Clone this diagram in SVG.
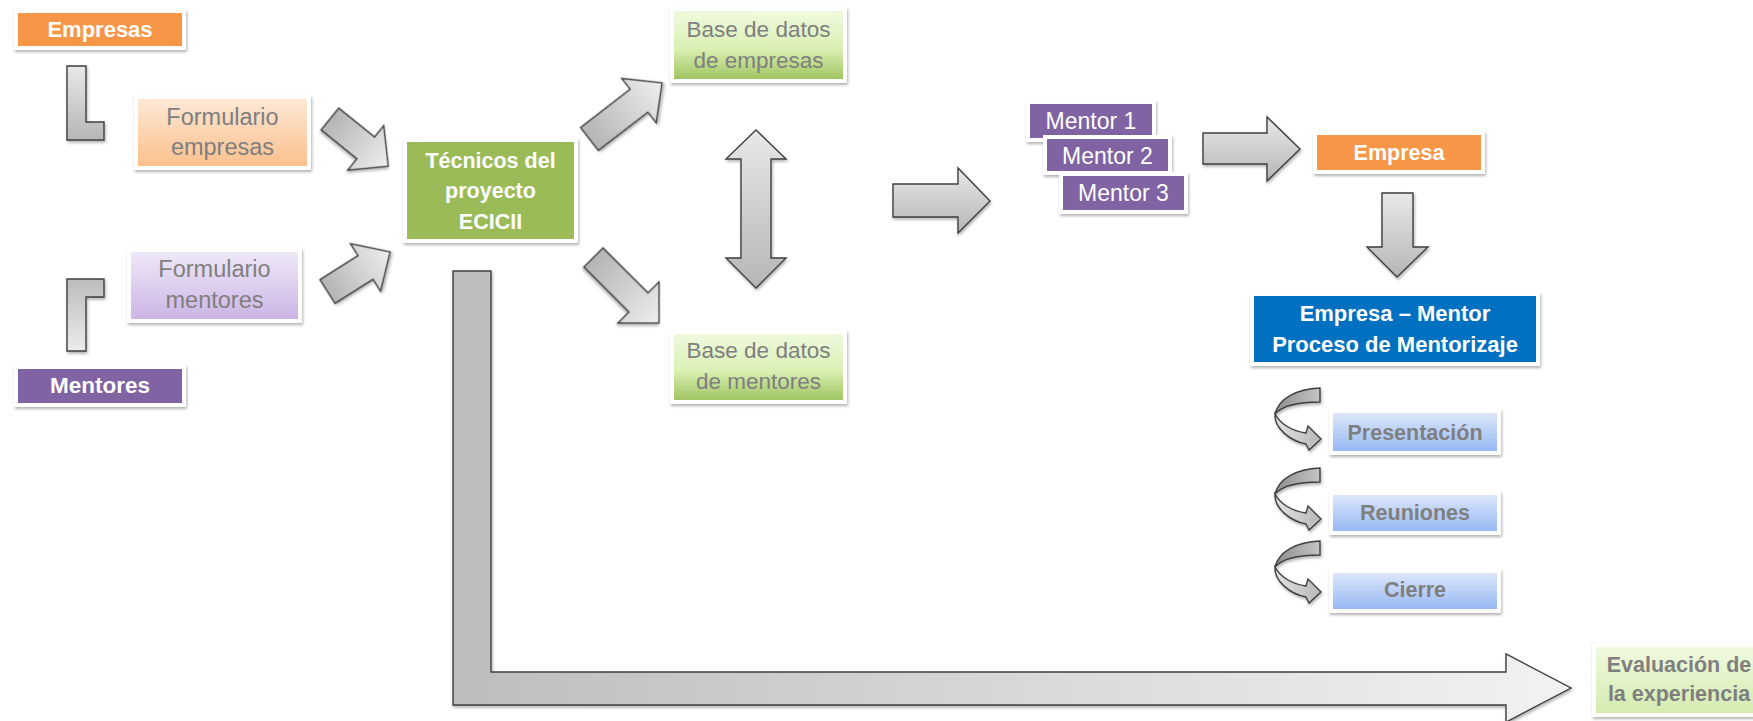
<svg xmlns="http://www.w3.org/2000/svg" width="1753" height="721" viewBox="0 0 1753 721">
<defs>
<filter id="sh" x="-10%" y="-15%" width="125%" height="140%"><feDropShadow dx="1" dy="2" stdDeviation="1.5" flood-color="#000" flood-opacity="0.3"/></filter>
<linearGradient id="gAxis" x1="0" y1="0" x2="1" y2="0"><stop offset="0" stop-color="#b4b4b4"/><stop offset="1" stop-color="#eeeeee"/></linearGradient>
<linearGradient id="gDown" x1="0" y1="0" x2="0" y2="1"><stop offset="0" stop-color="#e8e8e8"/><stop offset="1" stop-color="#b6b6b6"/></linearGradient>
<linearGradient id="gUp" x1="0" y1="0" x2="0" y2="1"><stop offset="0" stop-color="#bcbcbc"/><stop offset="1" stop-color="#ececec"/></linearGradient>
<linearGradient id="gBig" gradientUnits="userSpaceOnUse" x1="453" y1="0" x2="1571" y2="0"><stop offset="0" stop-color="#bdbdbd"/><stop offset="1" stop-color="#f2f2f2"/></linearGradient>
<linearGradient id="gPeach" x1="0" y1="0" x2="0" y2="1"><stop offset="0" stop-color="#fde9d8"/><stop offset="1" stop-color="#fbbf8a"/></linearGradient>
<linearGradient id="gLav" x1="0" y1="0" x2="0" y2="1"><stop offset="0" stop-color="#f0eaf8"/><stop offset="1" stop-color="#cbb3e5"/></linearGradient>
<linearGradient id="gLime" x1="0" y1="0" x2="0" y2="1"><stop offset="0" stop-color="#f1fae0"/><stop offset="0.55" stop-color="#daf0b4"/><stop offset="1" stop-color="#9dc25c"/></linearGradient>
<linearGradient id="gLime2" x1="0" y1="0" x2="0" y2="1"><stop offset="0" stop-color="#f1fae2"/><stop offset="1" stop-color="#d3ebad"/></linearGradient>
<linearGradient id="gSky" x1="0" y1="0" x2="0" y2="1"><stop offset="0" stop-color="#e0e9fb"/><stop offset="1" stop-color="#93b6f2"/></linearGradient>
<linearGradient id="gTwistA" x1="0" y1="0" x2="1" y2="0"><stop offset="0" stop-color="#8e8e8e"/><stop offset="1" stop-color="#c4c4c4"/></linearGradient>
<linearGradient id="gTwistB" x1="0" y1="0" x2="1" y2="0"><stop offset="0" stop-color="#e2e2e2"/><stop offset="1" stop-color="#b8b8b8"/></linearGradient>
<path id="curl" d="M1320,388 C1297,389 1279,398 1275,414 C1282,406 1298,402 1320,402 Z"/>
<path id="curl2" d="M1275,414 C1274,428 1290,441 1306,444 L1309,450 L1321,439 L1308,426 L1306,433 C1292,431 1280,424 1275,414 Z"/>
</defs>
<style>
.box{stroke:#ffffff;stroke-width:4;filter:url(#sh)}
.arr{stroke:#3f3f3f;stroke-width:1.4;stroke-linejoin:miter;filter:url(#sh)}
.t{font-family:"Liberation Sans",Arial,sans-serif;text-anchor:middle}
.wb{fill:#ffffff;font-weight:bold}
.w{fill:#ffffff}
.g{fill:#7f7f7f}
.gb{fill:#7f7f7f;font-weight:bold}
</style>
<rect width="1753" height="721" fill="#ffffff"/>

<g id="connectors">
<path class="arr" fill="url(#gDown)" d="M67,66 L86,66 L86,122 L104,122 L104,140 L67,140 Z"/>
<path class="arr" fill="url(#gUp)" d="M67,279 L104,279 L104,297 L86,297 L86,351 L67,351 Z"/>
<path class="arr" fill="url(#gAxis)" transform="translate(330,119) rotate(39)" d="M0,-14 L46,-14 L46,-28.5 L75,0 L46,28.5 L46,14 L0,14 Z"/>
<path class="arr" fill="url(#gAxis)" transform="translate(327.5,291.5) rotate(-32.3)" d="M0,-14 L45,-14 L45,-28 L74,0 L45,28 L45,14 L0,14 Z"/>
<path class="arr" fill="url(#gAxis)" transform="translate(589.5,139) rotate(-37.7)" d="M0,-14.5 L62.6,-14.5 L62.6,-28 L91.6,0 L62.6,28 L62.6,14.5 L0,14.5 Z"/>
<path class="arr" fill="url(#gAxis)" transform="translate(593.5,257.5) rotate(45)" d="M0,-13.5 L63.6,-13.5 L63.6,-29 L92.6,0 L63.6,29 L63.6,13.5 L0,13.5 Z"/>
<path class="arr" fill="url(#gDown)" d="M756,130 L786,159 L771,159 L771,258 L786,258 L756,288 L726,258 L741,258 L741,159 L726,159 Z"/>
<path class="arr" fill="url(#gDown)" d="M893,184 L958,184 L958,168 L990,201 L958,233 L958,217 L893,217 Z"/>
<path class="arr" fill="url(#gDown)" d="M1203,133 L1267,133 L1267,117 L1300,149 L1267,181 L1267,164 L1203,164 Z"/>
<path class="arr" fill="url(#gDown)" d="M1382,193 L1413,193 L1413,247 L1428,247 L1397,277 L1367,247 L1382,247 Z"/>
<path class="arr" fill="url(#gBig)" d="M453,271 L491,271 L491,672 L1506,672 L1506,654 L1571,688 L1506,722 L1506,705 L453,705 Z"/>
<g id="curl-1">
<use href="#curl" class="arr" fill="url(#gTwistA)"/>
<use href="#curl2" class="arr" fill="url(#gTwistB)"/>
</g>
<g id="curl-2" transform="translate(0,80)">
<use href="#curl" class="arr" fill="url(#gTwistA)"/>
<use href="#curl2" class="arr" fill="url(#gTwistB)"/>
</g>
<g id="curl-3" transform="translate(0,153)">
<use href="#curl" class="arr" fill="url(#gTwistA)"/>
<use href="#curl2" class="arr" fill="url(#gTwistB)"/>
</g>
</g>

<g id="empresas">
<rect class="box" x="16" y="11" width="168" height="37" fill="#f79646"/>
<text class="t wb" x="100" y="37" font-size="22">Empresas</text>
</g>
<g id="mentores">
<rect class="box" x="16" y="367" width="168" height="38" fill="#8064a2"/>
<text class="t wb" x="100" y="393" font-size="22.5">Mentores</text>
</g>
<g id="formulario-empresas">
<rect class="box" x="136" y="97" width="173" height="71" fill="url(#gPeach)"/>
<text class="t g" x="222.5" y="125" font-size="23.5">Formulario</text>
<text class="t g" x="222.5" y="155" font-size="23.5">empresas</text>
</g>
<g id="formulario-mentores">
<rect class="box" x="129" y="250" width="171" height="71" fill="url(#gLav)"/>
<text class="t g" x="214.5" y="277" font-size="23.5">Formulario</text>
<text class="t g" x="214.5" y="308" font-size="23.5">mentores</text>
</g>
<g id="tecnicos">
<rect class="box" x="405" y="140" width="171" height="101" fill="#9bbb59"/>
<text class="t wb" x="490.5" y="168" font-size="21.5">Técnicos del</text>
<text class="t wb" x="490.5" y="198" font-size="21.5">proyecto</text>
<text class="t wb" x="490.5" y="229" font-size="21.5">ECICII</text>
</g>
<g id="bd-empresas">
<rect class="box" x="672" y="9" width="173" height="72" fill="url(#gLime)"/>
<text class="t g" x="758.5" y="37" font-size="22.5">Base de datos</text>
<text class="t g" x="758.5" y="68" font-size="22.5">de empresas</text>
</g>
<g id="bd-mentores">
<rect class="box" x="672" y="332" width="173" height="70" fill="url(#gLime)"/>
<text class="t g" x="758.5" y="358" font-size="22.5">Base de datos</text>
<text class="t g" x="758.5" y="389" font-size="22.5">de mentores</text>
</g>
<g id="mentor-1">
<rect class="box" x="1028" y="102" width="126" height="38" fill="#8064a2"/>
<text class="t w" x="1091" y="129" font-size="23">Mentor 1</text>
</g>
<g id="mentor-2">
<rect class="box" x="1045" y="137" width="125" height="36" fill="#8064a2"/>
<text class="t w" x="1107.5" y="164" font-size="23">Mentor 2</text>
</g>
<g id="mentor-3">
<rect class="box" x="1061" y="174" width="125" height="38" fill="#8064a2"/>
<text class="t w" x="1123.5" y="201" font-size="23">Mentor 3</text>
</g>
<g id="empresa">
<rect class="box" x="1315" y="133" width="168" height="39" fill="#f79646"/>
<text class="t wb" x="1399" y="160" font-size="21.5">Empresa</text>
</g>
<g id="proceso">
<rect class="box" x="1252" y="294" width="286" height="70" fill="#0070c0"/>
<text class="t wb" x="1395" y="321" font-size="22">Empresa – Mentor</text>
<text class="t wb" x="1395" y="352" font-size="22">Proceso de Mentorizaje</text>
</g>
<g id="presentacion">
<rect class="box" x="1331" y="411" width="168" height="42" fill="url(#gSky)"/>
<text class="t gb" x="1415" y="440" font-size="21.5">Presentación</text>
</g>
<g id="reuniones">
<rect class="box" x="1331" y="493" width="168" height="40" fill="url(#gSky)"/>
<text class="t gb" x="1415" y="520" font-size="21.5">Reuniones</text>
</g>
<g id="cierre">
<rect class="box" x="1331" y="571" width="168" height="40" fill="url(#gSky)"/>
<text class="t gb" x="1415" y="597" font-size="21.5">Cierre</text>
</g>
<g id="evaluacion">
<rect class="box" x="1594" y="645" width="180" height="70" fill="url(#gLime2)"/>
<text class="t gb" x="1679" y="672" font-size="21.5">Evaluación de</text>
<text class="t gb" x="1679" y="701" font-size="21.5">la experiencia</text>
</g>
</svg>
